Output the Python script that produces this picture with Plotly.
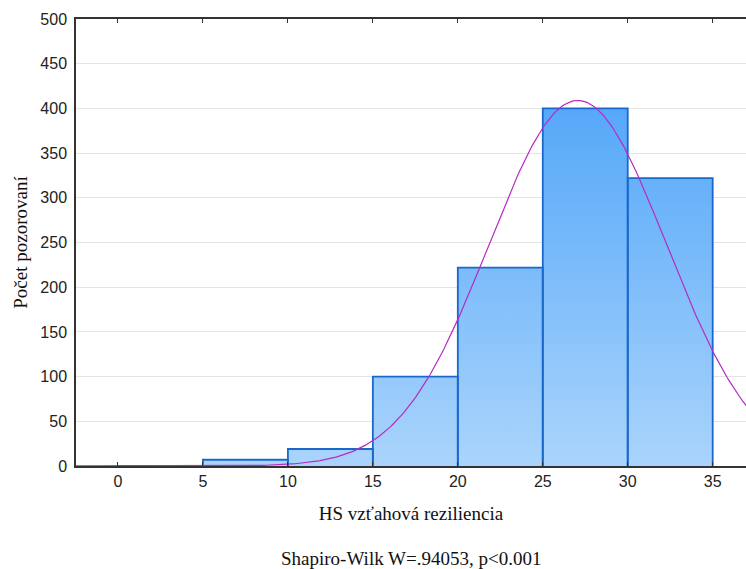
import numpy as np
import plotly.graph_objects as go

# Data
bin_edges = [0, 5, 10, 15, 20, 25, 30, 35]
counts = [0, 7, 19, 100, 222, 400, 322]
fit_mean = 27.06
fit_sd = 5.22
n_obs = sum(counts)
bin_width = 5
x_ticks = [0, 5, 10, 15, 20, 25, 30, 35]
y_ticks = [0, 50, 100, 150, 200, 250, 300, 350, 400, 450, 500]
x_title = "HS vzťahová reziliencia"
y_title = "Počet pozorovaní"
note = "Shapiro-Wilk W=.94053, p<0.001"

# Histogram outline polygon (for gradient fill)
fx, fy = [bin_edges[0]], [0]
for i, c in enumerate(counts):
    fx += [bin_edges[i], bin_edges[i + 1]]
    fy += [c, c]
fx += [bin_edges[-1], bin_edges[0]]
fy += [0, 0]

# Bar outlines
ox, oy = [], []
for i, c in enumerate(counts):
    ox += [bin_edges[i], bin_edges[i], bin_edges[i + 1], bin_edges[i + 1], None]
    oy += [0, c, c, 0, None]

# Fitted normal curve
cx = np.linspace(-3, 38, 400)
cy = n_obs * bin_width / (fit_sd * np.sqrt(2 * np.pi)) * np.exp(-0.5 * ((cx - fit_mean) / fit_sd) ** 2)

serif = "Liberation Serif, Times New Roman, serif"

fig = go.Figure()
fig.add_trace(go.Scatter(
    x=fx, y=fy, mode="lines", fill="toself", line=dict(width=0),
    fillgradient=dict(type="vertical",
                      colorscale=[[0, "rgb(170,212,252)"], [1, "rgb(86,168,248)"]],
                      start=0, stop=400),
    hoverinfo="skip", showlegend=False))
fig.add_trace(go.Scatter(
    x=ox, y=oy, mode="lines", line=dict(color="#1a68cc", width=1.8),
    showlegend=False))
fig.add_trace(go.Scatter(
    x=cx, y=cy, mode="lines", line=dict(color="#b42cc4", width=1.2),
    showlegend=False))

fig.update_layout(
    width=746, height=569,
    margin=dict(l=76, r=0, t=19, b=103, autoexpand=False),
    plot_bgcolor="white", paper_bgcolor="white",
    font=dict(family="Liberation Sans, Arial", size=16, color="#222"),
    annotations=[dict(text=note, x=0.5, y=0, xref="paper", yref="paper",
                      yshift=-92, showarrow=False, yanchor="middle",
                      font=dict(family=serif, size=19, color="#111"))],
)
fig.update_xaxes(
    range=[-2.47, 36.96], tickvals=x_ticks, ticktext=[str(v) for v in x_ticks],
    showgrid=False, zeroline=False,
    showline=True, linecolor="#333", linewidth=1.5, mirror="ticks",
    ticks="inside", ticklen=4, tickcolor="#333",
    tickfont=dict(size=16),
    title=dict(text=x_title, standoff=18,
               font=dict(family=serif, size=19, color="#111")),
)
fig.update_yaxes(
    range=[0, 500], tickvals=y_ticks,
    showgrid=True, gridcolor="#e4e4e4", gridwidth=1, zeroline=False,
    showline=True, linecolor="#333", linewidth=1.5,
    ticks="", ticklabelstandoff=4,
    tickfont=dict(size=16),
    title=dict(text=y_title, standoff=8,
               font=dict(family=serif, size=19, color="#111")),
)

fig.write_html("out.html", config={"displayModeBar": False},
               post_script="document.body.style.margin='0px';")
